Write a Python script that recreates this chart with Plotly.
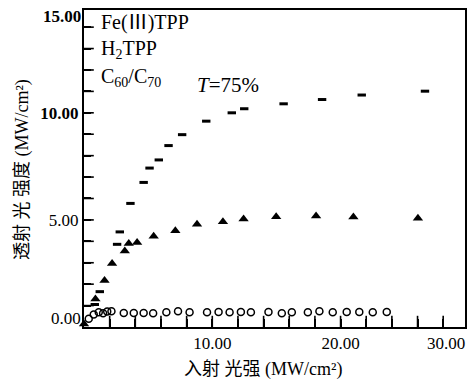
import plotly.graph_objects as go

# Fe(III)TPP (dash markers)
fe_x = [0.84, 1.23, 2.58, 2.79, 3.62, 4.65, 5.11, 5.83, 6.59, 7.65, 9.53, 11.52, 12.49, 15.56, 18.56, 21.65, 26.58]
fe_y = [1.05, 1.65, 3.86, 4.44, 5.77, 6.75, 7.42, 7.80, 8.47, 8.98, 9.61, 10.00, 10.19, 10.42, 10.62, 10.83, 11.01]

# H2TPP (filled triangles)
h2_x = [0.0, 0.89, 1.60, 2.19, 3.18, 3.49, 4.14, 5.43, 7.12, 8.81, 10.83, 12.44, 14.98, 18.09, 21.00, 26.03]
h2_y = [0.14, 1.31, 2.17, 2.96, 3.55, 3.90, 3.94, 4.24, 4.49, 4.80, 4.91, 5.04, 5.15, 5.18, 5.13, 5.08]

# C60/C70 (open circles)
c_x = [0.37, 0.76, 1.15, 1.49, 1.81, 2.14, 3.10, 3.88, 4.65, 5.39, 6.42, 7.33, 8.23, 9.59, 10.49,
       11.35, 12.23, 13.01, 14.38, 15.42, 16.20, 17.45, 18.35, 19.39, 20.48, 21.46, 22.51, 23.60]
c_y = [0.38, 0.58, 0.69, 0.64, 0.72, 0.73, 0.65, 0.65, 0.65, 0.64, 0.69, 0.73, 0.69, 0.69, 0.70,
       0.69, 0.70, 0.69, 0.70, 0.64, 0.69, 0.69, 0.73, 0.69, 0.70, 0.70, 0.69, 0.70]

# tick positions and labels
y_tick_positions = list(range(1, 15))          # every 1.00
x_tick_positions = list(range(2, 30, 2))       # every 2.00
y_labeled = ["5.00", "10.00"]
x_labeled = ["10.00", "20.00"]
y_zero_label = "0.00"
y_top_label = "15.00"
x_right_label = "30.00"

legend_names = ["Fe(Ⅲ)TPP", "H<sub>2</sub>TPP", "C<sub>60</sub>/C<sub>70</sub>"]
x_title = "入射 光强 (MW/cm²)"
y_title = "透射 光 强度 (MW/cm²)"

SERIF = "Liberation Serif, Noto Sans CJK SC, serif"

y_alias = {f"{v:.2f}": " " for v in range(0, 15) if f"{v:.2f}" not in y_labeled}
y_alias["10.00"] = "<b>10.00</b>"
x_alias = {f"{v:.2f}": " " for v in range(0, 30, 2) if f"{v:.2f}" not in x_labeled}

fig = go.Figure()
fig.add_trace(go.Scatter(x=c_x, y=c_y, mode="markers", cliponaxis=False,
                         marker=dict(symbol="circle-open", size=7, color="black", line=dict(width=1.5))))
fig.add_trace(go.Scatter(x=h2_x, y=h2_y, mode="markers", cliponaxis=False,
                         marker=dict(symbol="triangle-up", size=9, color="black")))
fig.add_trace(go.Scatter(x=fe_x, y=fe_y, mode="markers", cliponaxis=False,
                         marker=dict(symbol="line-ew", size=6, color="black", line=dict(width=3, color="black"))))

# inward tick marks: markers centred on the axis lines, clipped by the plot area so only the inner half shows
fig.add_trace(go.Scatter(x=[0] * len(y_tick_positions), y=y_tick_positions, mode="markers",
                         cliponaxis=True, hoverinfo="skip",
                         marker=dict(symbol="line-ew", size=14, color="black", line=dict(width=1.6, color="black"))))
fig.add_trace(go.Scatter(x=x_tick_positions, y=[0] * len(x_tick_positions), mode="markers",
                         cliponaxis=True, hoverinfo="skip",
                         marker=dict(symbol="line-ns", size=16, color="black", line=dict(width=1.6, color="black"))))

xaxis = dict(range=[0, 29.7], tickmode="linear", tick0=0, dtick=2, tickformat=".2f", labelalias=x_alias,
             ticks="inside", ticklen=8, tickwidth=1.6, tickcolor="black",
             showline=True, linecolor="black", linewidth=2, mirror=True, automargin=False,
             showgrid=False, zeroline=False,
             tickfont=dict(family=SERIF, size=17, color="black"))
yaxis = dict(range=[0, 14.8], tickmode="linear", tick0=0, dtick=1, tickformat=".2f", labelalias=y_alias,
             ticks="inside", ticklen=7, tickwidth=1.6, tickcolor="black",
             showline=True, linecolor="black", linewidth=2, mirror=True, automargin=False,
             showgrid=False, zeroline=False, ticklabelstandoff=0,
             tickfont=dict(family=SERIF, size=17, color="black"))

annotations = []
for i, name in enumerate(legend_names):
    annotations.append(dict(xref="paper", yref="y", x=0.04, y=[14.2, 12.95, 11.65][i], xanchor="left",
                            yanchor="middle", text=name, showarrow=False,
                            font=dict(family=SERIF, size=20, color="black")))
annotations.append(dict(xref="x", yref="y", x=11.2, y=11.3, text="<i>T</i>=75%", showarrow=False,
                        font=dict(family=SERIF, size=21, color="black")))
annotations.append(dict(xref="paper", yref="y", x=0, y=14.5, xanchor="right", xshift=-1,
                        text="<b>" + y_top_label + "</b>", showarrow=False,
                        font=dict(family=SERIF, size=17, color="black")))
annotations.append(dict(xref="paper", yref="y", x=0, y=0, xanchor="right", xshift=-1, yshift=9,
                        text=y_zero_label, showarrow=False, font=dict(family=SERIF, size=17, color="black")))
annotations.append(dict(xref="paper", yref="paper", x=1, y=0, xanchor="right", yanchor="top", xshift=2, yshift=-5,
                        text=x_right_label, showarrow=False, font=dict(family=SERIF, size=17, color="black")))
annotations.append(dict(xref="paper", yref="paper", x=0.47, y=0, yanchor="middle", yshift=-42,
                        text=x_title, showarrow=False, font=dict(family=SERIF, size=18, color="black")))
annotations.append(dict(xref="paper", yref="paper", x=0, y=0.495, xanchor="center", xshift=-62,
                        textangle=-90, text=y_title, showarrow=False,
                        font=dict(family=SERIF, size=18, color="black")))

fig.update_layout(width=469, height=387, margin=dict(l=84, r=4, t=10, b=60),
                  paper_bgcolor="white", plot_bgcolor="white", showlegend=False,
                  xaxis=xaxis, yaxis=yaxis, annotations=annotations)

fig.write_html("out.html", config={"displayModeBar": False},
               post_script="document.body.style.margin='0';document.body.style.padding='0';")
